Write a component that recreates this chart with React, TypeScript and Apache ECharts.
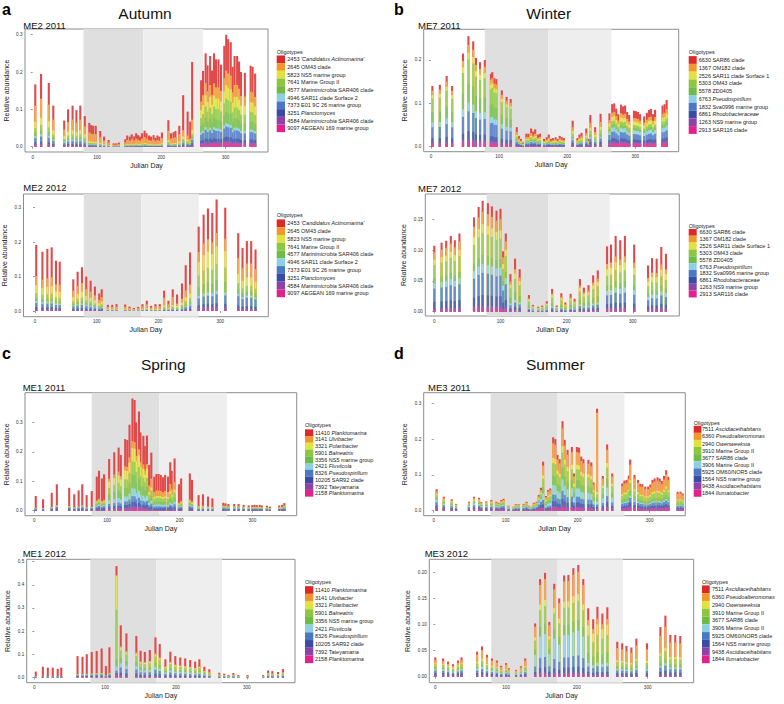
import React, { useEffect, useRef } from "react";
import * as echarts from "echarts";

const FONT = '"Liberation Sans", Arial, Helvetica, sans-serif';
const COLORS = ["#dc2a2a", "#f0982f", "#dfe23f", "#8dc641", "#6fbb46", "#8dd0e4", "#4b78c5", "#3b4aa3", "#8e41a6", "#e2218c"];
const BAR_COLORS = ["#e14a4a", "#f2a84e", "#e4e65c", "#9ecf5d", "#85c562", "#9ed7e8", "#668cce", "#5865b1", "#9f5eb3", "#e6429d"];

// Legend entries: [id, italic part, normal part]
const AUTUMN_LEG = [
  ["2453", "'Candidatus Actinomarina'", ""],
  ["2645", "", "OM43 clade"],
  ["5823", "", "NS5 marine group"],
  ["7641", "", "Marine Group II"],
  ["4577", "Marinimicrobia", "SAR406 clade"],
  ["4946", "", "SAR11 clade Surface 2"],
  ["7373", "", "E01 9C 26 marine group"],
  ["3251", "Planctomyces", ""],
  ["4584", "Marinimicrobia", "SAR406 clade"],
  ["9097", "", "AEGEAN 169 marine group"],
];
const WINTER_LEG = [
  ["6630", "", "SAR86 clade"],
  ["1367", "", "OM182 clade"],
  ["2526", "", "SAR11 clade Surface 1"],
  ["5303", "", "OM43 clade"],
  ["5578", "", "ZD0405"],
  ["6763", "Pseudospirillum", ""],
  ["1832", "", "Sva0996 marine group"],
  ["6861", "Rhodobacteraceae", ""],
  ["1263", "", "NS9 marine group"],
  ["2913", "", "SAR116 clade"],
];
const SPRING_LEG = [
  ["11410", "Planktomarina", ""],
  ["3141", "Ulvibacter", ""],
  ["3321", "Polaribacter", ""],
  ["5901", "Balneatrix", ""],
  ["3356", "", "NS5 marine group"],
  ["2421", "Fluviicola", ""],
  ["8326", "Pseudospirillum", ""],
  ["10205", "", "SAR92 clade"],
  ["7392", "", "Tateyamaria"],
  ["2158", "Planktomarina", ""],
];
const SUMMER_LEG = [
  ["7511", "Ascidiaceihabitans", ""],
  ["6360", "Pseudoalteromonas", ""],
  ["2940", "Owenweeksia", ""],
  ["3910", "", "Marine Group II"],
  ["3677", "", "SAR86 clade"],
  ["3906", "", "Marine Group II"],
  ["5925", "", "OM60/NOR5 clade"],
  ["1564", "", "NS5 marine group"],
  ["9438", "Ascidiaceihabitans", ""],
  ["1844", "Ilumatobacter", ""],
];

const X_TICKS = [0, 100, 200, 300];
const SEASON_BOUNDS = [79, 172, 265];

// ---------- ME2 2011 ----------
const A1_DAYS = [4, 13, 25, 32, 49, 55, 62, 68, 74, 81, 88, 91, 94, 98, 105, 111, 118, 126, 130, 134, 144, 147, 151, 154, 158, 161, 164, 167, 170, 174, 177, 181, 184, 188, 191, 194, 197, 201, 211, 215, 219, 222, 228, 234, 241, 245, 248, 262, 265, 269, 272, 276, 279, 282, 285, 289, 293, 298, 301, 304, 308, 311, 314, 318, 321, 324, 330, 339, 342, 346];
const A1_TOTAL = [0.167, 0.195, 0.171, 0.11, 0.07, 0.1, 0.11, 0.098, 0.11, 0.082, 0.064, 0.058, 0.056, 0.056, 0.042, 0.027, 0.018, 0.009, 0.009, 0.011, 0.02, 0.03, 0.027, 0.033, 0.028, 0.036, 0.031, 0.027, 0.036, 0.043, 0.036, 0.03, 0.027, 0.031, 0.024, 0.03, 0.027, 0.038, 0.071, 0.036, 0.039, 0.042, 0.056, 0.138, 0.094, 0.067, 0.227, 0.178, 0.203, 0.25, 0.218, 0.243, 0.204, 0.25, 0.234, 0.234, 0.22, 0.27, 0.3, 0.288, 0.28, 0.214, 0.243, 0.243, 0.228, 0.2, 0.198, 0.217, 0.214, 0.196];
const A1_MIX = [0, 0, 0, 0, 0, 0, 0, 0, 0, 0, 1, 1, 1, 1, 1, 1, 1, 1, 1, 1, 1, 1, 1, 1, 1, 1, 1, 1, 1, 1, 1, 1, 1, 1, 1, 1, 1, 1, 1, 1, 1, 1, 1, 2, 2, 2, 2, 3, 3, 3, 3, 3, 3, 3, 3, 3, 3, 3, 3, 3, 3, 3, 3, 3, 3, 3, 3, 3, 3, 3];
const A1_PROFILES = [
  [0.34, 0.26, 0.1, 0.07, 0.06, 0.03, 0.07, 0.03, 0.02, 0.02],
  [0.4, 0.36, 0.07, 0.04, 0.03, 0.02, 0.04, 0.02, 0.01, 0.01],
  [0.68, 0.12, 0.05, 0.03, 0.03, 0.01, 0.04, 0.02, 0.01, 0.01],
  [0.32, 0.13, 0.12, 0.12, 0.1, 0.03, 0.09, 0.04, 0.02, 0.03],
];

// ---------- ME2 2012 ----------
const A2_DAYS = [2, 12, 20, 27, 34, 40, 62, 69, 76, 83, 90, 97, 104, 108, 118, 125, 132, 146, 153, 160, 167, 174, 181, 188, 195, 202, 209, 216, 223, 230, 238, 244, 251, 265, 273, 280, 287, 294, 308, 329, 336, 343, 350, 357];
const A2_TOTAL = [0.192, 0.172, 0.18, 0.185, 0.146, 0.143, 0.092, 0.114, 0.127, 0.1, 0.088, 0.071, 0.051, 0.063, 0.018, 0.018, 0.02, 0.019, 0.013, 0.009, 0.012, 0.02, 0.03, 0.015, 0.02, 0.02, 0.059, 0.03, 0.063, 0.048, 0.08, 0.133, 0.17, 0.245, 0.28, 0.298, 0.285, 0.324, 0.3, 0.226, 0.183, 0.203, 0.203, 0.179];
const A2_MIX = [0, 0, 0, 0, 0, 0, 1, 1, 1, 1, 1, 1, 1, 1, 2, 2, 2, 2, 2, 2, 2, 2, 2, 2, 2, 2, 2, 2, 2, 3, 3, 3, 3, 4, 4, 4, 4, 4, 4, 5, 5, 5, 5, 5];
const A2_PROFILES = [
  [0.47, 0.14, 0.12, 0.07, 0.05, 0.03, 0.06, 0.03, 0.015, 0.015],
  [0.36, 0.2, 0.13, 0.08, 0.06, 0.03, 0.07, 0.04, 0.015, 0.015],
  [0.35, 0.38, 0.08, 0.05, 0.04, 0.02, 0.04, 0.02, 0.01, 0.01],
  [0.55, 0.15, 0.08, 0.06, 0.05, 0.02, 0.05, 0.02, 0.01, 0.01],
  [0.3, 0.12, 0.16, 0.14, 0.1, 0.03, 0.08, 0.03, 0.02, 0.02],
  [0.32, 0.2, 0.12, 0.08, 0.06, 0.03, 0.12, 0.04, 0.015, 0.015],
];

// ---------- ME7 2011 ----------
const B1_DAYS = [2, 13, 23, 31, 47, 55, 62, 66, 72, 79, 88, 90, 93, 96, 104, 111, 117, 126, 129, 132, 135, 140, 143, 147, 150, 153, 157, 160, 166, 170, 173, 176, 179, 183, 186, 189, 192, 195, 208, 215, 218, 221, 228, 231, 234, 241, 249, 262, 266, 269, 272, 275, 279, 282, 285, 288, 291, 298, 301, 304, 307, 313, 317, 320, 323, 326, 329, 340, 343, 346];
const B1_TOTAL = [0.14, 0.143, 0.163, 0.14, 0.215, 0.255, 0.243, 0.205, 0.195, 0.2, 0.168, 0.172, 0.158, 0.156, 0.13, 0.115, 0.11, 0.045, 0.025, 0.018, 0.01, 0.03, 0.03, 0.042, 0.035, 0.04, 0.028, 0.03, 0.018, 0.022, 0.028, 0.018, 0.02, 0.022, 0.018, 0.025, 0.022, 0.02, 0.06, 0.02, 0.028, 0.032, 0.042, 0.018, 0.073, 0.045, 0.076, 0.077, 0.098, 0.1, 0.088, 0.075, 0.097, 0.093, 0.095, 0.08, 0.073, 0.083, 0.082, 0.08, 0.075, 0.07, 0.078, 0.085, 0.087, 0.075, 0.085, 0.095, 0.098, 0.108];
const B1_MIX = [0, 0, 0, 0, 0, 0, 0, 0, 0, 0, 0, 0, 0, 0, 0, 0, 0, 1, 1, 1, 1, 1, 1, 1, 1, 1, 1, 1, 1, 1, 1, 1, 1, 1, 1, 1, 1, 1, 1, 1, 1, 1, 1, 1, 1, 1, 1, 2, 2, 2, 2, 2, 2, 2, 2, 2, 2, 2, 2, 2, 2, 2, 2, 2, 2, 2, 2, 2, 2, 2];
const B1_PROFILES = [
  [0.08, 0.07, 0.06, 0.22, 0.17, 0.08, 0.18, 0.07, 0.03, 0.04],
  [0.25, 0.15, 0.1, 0.12, 0.08, 0.05, 0.1, 0.08, 0.03, 0.04],
  [0.2, 0.1, 0.1, 0.08, 0.07, 0.1, 0.15, 0.08, 0.04, 0.08],
];

// ---------- ME7 2012 ----------
const B2_DAYS = [0, 11, 18, 25, 31, 38, 60, 67, 73, 81, 87, 94, 100, 104, 108, 115, 122, 129, 143, 149, 157, 163, 170, 178, 185, 192, 198, 206, 212, 220, 226, 233, 240, 247, 261, 267, 274, 281, 288, 302, 323, 329, 336, 343, 350];
const B2_TOTAL = [0.107, 0.112, 0.115, 0.123, 0.116, 0.127, 0.153, 0.17, 0.18, 0.176, 0.171, 0.164, 0.167, 0.098, 0.127, 0.061, 0.086, 0.069, 0.027, 0.011, 0.008, 0.01, 0.017, 0.037, 0.01, 0.03, 0.015, 0.029, 0.021, 0.053, 0.039, 0.043, 0.059, 0.067, 0.106, 0.109, 0.123, 0.116, 0.123, 0.109, 0.075, 0.087, 0.086, 0.105, 0.094];
const B2_MIX = [0, 0, 0, 0, 0, 0, 0, 0, 0, 0, 0, 0, 0, 0, 0, 1, 1, 1, 1, 1, 1, 1, 1, 1, 1, 1, 1, 1, 1, 1, 1, 1, 1, 1, 2, 2, 2, 2, 2, 2, 2, 2, 2, 2, 2];
const B2_PROFILES = [
  [0.1, 0.11, 0.08, 0.2, 0.08, 0.08, 0.2, 0.1, 0.02, 0.03],
  [0.2, 0.08, 0.1, 0.25, 0.15, 0.05, 0.08, 0.05, 0.02, 0.02],
  [0.27, 0.08, 0.1, 0.15, 0.08, 0.07, 0.13, 0.07, 0.02, 0.03],
];

// ---------- ME1 2011 ----------
const C1_DAYS = [2, 12, 24, 31, 48, 55, 61, 66, 72, 79, 86, 89, 93, 96, 103, 110, 116, 119, 125, 128, 131, 135, 138, 140, 144, 146, 150, 152, 155, 158, 161, 165, 168, 171, 174, 177, 180, 184, 187, 189, 193, 199, 202, 214, 217, 226, 232, 239, 245, 260, 263, 267, 275, 281, 288, 295, 300, 303, 306, 310, 313, 320, 324, 337, 341, 344];
const C1_TOTAL = [0.05, 0.039, 0.061, 0.09, 0.078, 0.056, 0.069, 0.09, 0.053, 0.067, 0.116, 0.136, 0.11, 0.124, 0.176, 0.199, 0.215, 0.19, 0.244, 0.241, 0.293, 0.382, 0.377, 0.301, 0.338, 0.267, 0.255, 0.22, 0.256, 0.156, 0.198, 0.116, 0.125, 0.125, 0.122, 0.114, 0.122, 0.116, 0.165, 0.136, 0.178, 0.09, 0.11, 0.127, 0.105, 0.053, 0.056, 0.048, 0.042, 0.027, 0.025, 0.023, 0.023, 0.023, 0.02, 0.018, 0.019, 0.02, 0.019, 0.02, 0.018, 0.017, 0.014, 0.018, 0.02, 0.026];
const C1_MIX = [0, 0, 0, 0, 0, 0, 0, 0, 0, 0, 3, 3, 3, 3, 1, 1, 1, 1, 1, 1, 1, 1, 1, 1, 1, 1, 1, 1, 1, 2, 2, 2, 2, 2, 2, 2, 2, 2, 2, 2, 2, 3, 3, 3, 3, 3, 3, 3, 3, 4, 4, 4, 4, 4, 4, 4, 4, 4, 4, 4, 4, 4, 4, 4, 4, 4];
const C1_PROFILES = [
  [0.8, 0.01, 0.01, 0.01, 0.01, 0.02, 0.05, 0.05, 0.02, 0.02],
  [0.38, 0.06, 0.12, 0.12, 0.12, 0.07, 0.05, 0.04, 0.02, 0.02],
  [0.45, 0.15, 0.05, 0.1, 0.08, 0.05, 0.05, 0.04, 0.02, 0.01],
  [0.7, 0.05, 0.02, 0.04, 0.04, 0.03, 0.05, 0.04, 0.02, 0.01],
  [0.35, 0.05, 0.04, 0.1, 0.08, 0.06, 0.12, 0.12, 0.04, 0.04],
];

// ---------- ME1 2012 ----------
const C2_DAYS = [2, 12, 19, 26, 33, 38, 61, 68, 74, 81, 88, 95, 101, 106, 116, 122, 130, 144, 150, 156, 163, 171, 177, 185, 192, 199, 206, 213, 220, 227, 233, 240, 247, 261, 268, 274, 281, 288, 301, 323, 330, 336, 344, 351];
const C2_TOTAL = [0.025, 0.046, 0.042, 0.042, 0.037, 0.042, 0.092, 0.089, 0.1, 0.11, 0.114, 0.125, 0.049, 0.13, 0.481, 0.225, 0.19, 0.179, 0.115, 0.11, 0.118, 0.173, 0.144, 0.078, 0.111, 0.092, 0.086, 0.082, 0.075, 0.068, 0.078, 0.046, 0.035, 0.02, 0.016, 0.01, 0.019, 0.01, 0.01, 0.01, 0.03, 0.027, 0.023, 0.036];
const C2_MIX = [0, 0, 0, 0, 0, 0, 0, 0, 0, 0, 0, 0, 0, 0, 1, 2, 2, 2, 2, 2, 2, 2, 2, 2, 2, 2, 2, 2, 2, 2, 2, 2, 2, 3, 3, 3, 3, 3, 3, 3, 3, 3, 3, 3];
const C2_PROFILES = [
  [0.85, 0.01, 0.01, 0.01, 0.01, 0.01, 0.04, 0.03, 0.01, 0.02],
  [0.08, 0.01, 0.3, 0.45, 0.06, 0.04, 0.02, 0.01, 0.01, 0.02],
  [0.4, 0.03, 0.05, 0.15, 0.1, 0.08, 0.1, 0.05, 0.02, 0.02],
  [0.4, 0.05, 0.05, 0.15, 0.1, 0.05, 0.1, 0.05, 0.02, 0.03],
];

// ---------- ME3 2011 ----------
const D1_DAYS = [4, 14, 25, 31, 49, 56, 63, 66, 73, 80, 87, 90, 94, 97, 104, 111, 114, 118, 125, 129, 132, 136, 139, 143, 146, 149, 152, 156, 159, 162, 166, 169, 172, 175, 179, 182, 186, 192, 195, 199, 202, 205, 208, 215, 219, 222, 227, 235, 241, 248, 262, 265, 268, 271, 273, 279, 284, 287, 290, 294, 298, 301, 304, 307, 311, 314, 317, 320, 323, 326, 339, 343, 346];
const D1_TOTAL = [0.06, 0.039, 0.032, 0.019, 0.025, 0.039, 0.036, 0.024, 0.026, 0.03, 0.025, 0.022, 0.03, 0.033, 0.014, 0.011, 0.018, 0.018, 0.019, 0.025, 0.014, 0.011, 0.022, 0.025, 0.044, 0.064, 0.137, 0.041, 0.058, 0.062, 0.205, 0.2, 0.156, 0.144, 0.25, 0.198, 0.17, 0.178, 0.104, 0.178, 0.176, 0.151, 0.144, 0.142, 0.135, 0.079, 0.285, 0.097, 0.185, 0.104, 0.076, 0.084, 0.086, 0.098, 0.143, 0.1, 0.086, 0.075, 0.074, 0.067, 0.067, 0.073, 0.086, 0.09, 0.093, 0.09, 0.083, 0.097, 0.113, 0.095, 0.053, 0.053, 0.048];
const D1_MIX = [0, 0, 0, 0, 0, 0, 0, 0, 0, 0, 0, 0, 0, 0, 0, 0, 0, 0, 0, 0, 0, 0, 0, 0, 0, 0, 1, 1, 1, 1, 1, 1, 1, 1, 1, 1, 1, 1, 1, 1, 1, 1, 1, 1, 1, 1, 2, 1, 1, 1, 3, 3, 3, 3, 3, 3, 3, 3, 3, 3, 3, 3, 3, 3, 3, 3, 3, 3, 3, 3, 3, 3, 3];
const D1_PROFILES = [
  [0.1, 0.12, 0.05, 0.12, 0.1, 0.12, 0.15, 0.1, 0.04, 0.1],
  [0.08, 0.2, 0.07, 0.17, 0.13, 0.13, 0.09, 0.07, 0.02, 0.04],
  [0.04, 0.78, 0.02, 0.04, 0.03, 0.03, 0.02, 0.02, 0.01, 0.01],
  [0.1, 0.3, 0.06, 0.15, 0.1, 0.04, 0.09, 0.07, 0.03, 0.06],
];

// ---------- ME3 2012 ----------
const D2_DAYS = [0, 11, 18, 25, 32, 37, 59, 66, 73, 80, 87, 93, 100, 104, 114, 121, 127, 141, 148, 155, 161, 168, 175, 182, 188, 195, 202, 209, 216, 223, 229, 236, 243, 257, 264, 270, 277, 284, 299, 318, 325, 332, 339, 346];
const D2_TOTAL = [0.037, 0.035, 0.029, 0.024, 0.031, 0.037, 0.048, 0.058, 0.042, 0.035, 0.031, 0.021, 0.026, 0.016, 0.013, 0.02, 0.035, 0.102, 0.187, 0.199, 0.105, 0.178, 0.15, 0.194, 0.195, 0.208, 0.214, 0.187, 0.131, 0.11, 0.134, 0.121, 0.133, 0.067, 0.064, 0.059, 0.056, 0.073, 0.064, 0.095, 0.117, 0.08, 0.08, 0.078];
const D2_MIX = [0, 0, 0, 0, 0, 0, 1, 1, 1, 1, 1, 1, 1, 1, 1, 1, 1, 2, 2, 2, 2, 2, 2, 2, 2, 2, 2, 2, 3, 3, 3, 3, 3, 4, 4, 4, 4, 4, 4, 4, 4, 4, 4, 4];
const D2_PROFILES = [
  [0.15, 0.15, 0.05, 0.15, 0.1, 0.08, 0.12, 0.1, 0.05, 0.05],
  [0.12, 0.3, 0.05, 0.12, 0.08, 0.08, 0.1, 0.08, 0.03, 0.04],
  [0.06, 0.2, 0.06, 0.17, 0.1, 0.22, 0.1, 0.05, 0.02, 0.02],
  [0.17, 0.08, 0.15, 0.25, 0.15, 0.05, 0.08, 0.04, 0.01, 0.02],
  [0.18, 0.35, 0.05, 0.12, 0.08, 0.04, 0.08, 0.06, 0.02, 0.02],
];

// layout (pixels) kept apart from the data
type Layout = {
  grid: number[]; // left, top, width, height
  x: number[]; // min, max (Julian day)
  y: number[]; // min, max
  yTicks: number[];
  dec: number;
  label: number[]; // title x, y
  leg: number[]; // block x, title y, first y, step, text x, block w
};

const PANELS: { title: string; leg: string[][]; days: number[]; total: number[]; mix: number[]; prof: number[][]; L: Layout }[] = [
  { title: "ME2 2011", leg: AUTUMN_LEG, days: A1_DAYS, total: A1_TOTAL, mix: A1_MIX, prof: A1_PROFILES,
    L: { grid: [25, 29, 243, 123], x: [-12, 366], y: [-0.0142, 0.3153], yTicks: [0, 0.1, 0.2, 0.3], dec: 1, label: [23.3, 25], leg: [276.7, 51.7, 59.3, 7.67, 287.3, 8.3] } },
  { title: "ME2 2012", leg: AUTUMN_LEG, days: A2_DAYS, total: A2_TOTAL, mix: A2_MIX, prof: A2_PROFILES,
    L: { grid: [22, 194, 246.3, 122.7], x: [-18.6, 377.7], y: [-0.0165, 0.3398], yTicks: [0, 0.1, 0.2, 0.3], dec: 1, label: [23.3, 187.3], leg: [276.7, 215, 223.3, 7.78, 287.3, 8.3] } },
  { title: "ME7 2011", leg: WINTER_LEG, days: B1_DAYS, total: B1_TOTAL, mix: B1_MIX, prof: B1_PROFILES,
    L: { grid: [423.7, 29.3, 255, 122.4], x: [-10.7, 363.7], y: [-0.0115, 0.2708], yTicks: [0, 0.1, 0.2], dec: 1, label: [418, 25], leg: [688.7, 51.7, 60, 7.78, 698.7, 8] } },
  { title: "ME7 2012", leg: WINTER_LEG, days: B2_DAYS, total: B2_TOTAL, mix: B2_MIX, prof: B2_PROFILES,
    L: { grid: [425.3, 194, 254, 122], x: [-13.6, 370.2], y: [-0.007, 0.191], yTicks: [0, 0.05, 0.1, 0.15], dec: 2, label: [418, 188.3], leg: [688.7, 226, 232.3, 6.86, 699.5, 8] } },
  { title: "ME1 2011", leg: SPRING_LEG, days: C1_DAYS, total: C1_TOTAL, mix: C1_MIX, prof: C1_PROFILES,
    L: { grid: [25, 392.7, 271.7, 123], x: [-12.8, 361], y: [-0.017, 0.402], yTicks: [0, 0.1, 0.2, 0.3], dec: 1, label: [22.7, 387.7], leg: [305, 425, 432.7, 6.73, 315, 8.3] } },
  { title: "ME1 2012", leg: SPRING_LEG, days: C2_DAYS, total: C2_TOTAL, mix: C2_MIX, prof: C2_PROFILES,
    L: { grid: [26.7, 559.3, 268.3, 123.4], x: [-10.8, 368], y: [-0.023, 0.5104], yTicks: [0, 0.1, 0.2, 0.3, 0.4, 0.5], dec: 1, label: [22.7, 553.3], leg: [305, 582.3, 590, 7.7, 315, 8.3] } },
  { title: "ME3 2011", leg: SUMMER_LEG, days: D1_DAYS, total: D1_TOTAL, mix: D1_MIX, prof: D1_PROFILES,
    L: { grid: [423.7, 392.7, 261.6, 123], x: [-13.9, 349.6], y: [-0.014, 0.3296], yTicks: [0, 0.1, 0.2, 0.3], dec: 1, label: [428, 387.7], leg: [693.7, 422.7, 429.3, 7.1, 702, 7.7] } },
  { title: "ME3 2012", leg: SUMMER_LEG, days: D2_DAYS, total: D2_TOTAL, mix: D2_MIX, prof: D2_PROFILES,
    L: { grid: [429.3, 559.3, 264.4, 123.4], x: [-8.5, 365], y: [-0.0115, 0.2249], yTicks: [0, 0.05, 0.1, 0.15, 0.2], dec: 2, label: [424.7, 553.3], leg: [702, 581.7, 589.3, 7.78, 712, 7.7] } },
];

const SECTIONS = [
  { letter: "a", name: "Autumn", lx: 2, ly: 9, tx: 145, ty: 13 },
  { letter: "b", name: "Winter", lx: 394, ly: 9, tx: 548.7, ty: 13 },
  { letter: "c", name: "Spring", lx: 2, ly: 353, tx: 163.3, ty: 364 },
  { letter: "d", name: "Summer", lx: 394, ly: 353, tx: 555.3, ty: 364 },
];

const legName = (e: string[]) => e.filter(Boolean).join(" ");
const legRich = (e: string[]) => {
  let s = `{n|${e[0]}}`;
  if (e[1]) s += ` {i|${e[1]}}`;
  if (e[2]) s += ` {n|${e[2]}}`;
  return s;
};

function buildOption() {
  const grid: any[] = [];
  const xAxis: any[] = [];
  const yAxis: any[] = [];
  const series: any[] = [];
  const graphic: any[] = [];
  const LEG_FS = 5.5;
  const TICK_FS = 4.6;
  const NAME_FS = 7;

  PANELS.forEach((p, k) => {
    const L = p.L;
    grid.push({ left: L.grid[0], top: L.grid[1], width: L.grid[2], height: L.grid[3], show: true, borderColor: "#8d8d8d", borderWidth: 1, backgroundColor: "transparent" });
    xAxis.push({
      type: "value", gridIndex: k, min: L.x[0], max: L.x[1],
      axisLine: { show: false }, splitLine: { show: false },
      axisTick: { show: true, length: 2, customValues: X_TICKS, lineStyle: { color: "#555", width: 0.6 } },
      axisLabel: { customValues: X_TICKS, fontSize: TICK_FS, margin: 2.5, color: "#333", fontFamily: FONT },
      name: "Julian Day", nameLocation: "middle", nameGap: 9.5,
      nameTextStyle: { fontSize: NAME_FS, color: "#222", fontFamily: FONT },
    });
    yAxis.push({
      type: "value", gridIndex: k, min: L.y[0], max: L.y[1],
      axisLine: { show: false }, splitLine: { show: false },
      axisTick: { show: true, length: 2, customValues: L.yTicks, lineStyle: { color: "#555", width: 0.6 } },
      axisLabel: { customValues: L.yTicks, fontSize: TICK_FS, margin: 2.5, color: "#333", fontFamily: FONT, formatter: (v: number) => v.toFixed(L.dec) },
      name: "Relative abundance", nameLocation: "middle", nameGap: L.dec === 2 ? 18 : 15.5,
      nameTextStyle: { fontSize: NAME_FS, color: "#222", fontFamily: FONT },
    });
    // Stacked bars: each oligotype's bar reaches the top of its segment in the stack
    // (cumulative from the bottom-most oligotype); bars overlap at the same day, and the
    // lower segments are drawn over the higher ones.
    for (let s = 0; s <= 9; s++) {
      const ser: any = {
        type: "bar", name: legName(p.leg[s]), xAxisIndex: k, yAxisIndex: k,
        barWidth: 2.1, barGap: "-100%", silent: true,
        itemStyle: { color: BAR_COLORS[s] },
        data: p.days.map((d, i) => {
          const prof = p.prof[p.mix[i]];
          let top = 0;
          for (let j = s; j <= 9; j++) top += p.total[i] * prof[j];
          return [d, +top.toFixed(5)];
        }),
      };
      if (s === 0) {
        ser.markArea = {
          silent: true,
          data: [
            [{ xAxis: SEASON_BOUNDS[0], itemStyle: { color: "#dfdfdf" } }, { xAxis: SEASON_BOUNDS[1] }],
            [{ xAxis: SEASON_BOUNDS[1], itemStyle: { color: "#eeeeee" } }, { xAxis: SEASON_BOUNDS[2] }],
          ],
        };
      }
      series.push(ser);
    }
    graphic.push({ type: "text", x: L.label[0], y: L.label[1], style: { text: p.title, fontSize: 9.5, fontFamily: FONT, fill: "#111", verticalAlign: "middle" } });
    const [bx, ty, fy, step, tx, bw] = L.leg;
    graphic.push({ type: "text", x: bx, y: ty, style: { text: "Oligotypes", fontSize: LEG_FS, fontFamily: FONT, fill: "#222", verticalAlign: "middle" } });
    p.leg.forEach((e, i) => {
      const cy = fy + i * step;
      graphic.push({ type: "rect", shape: { x: bx, y: cy - step / 2, width: bw, height: step }, style: { fill: COLORS[i] } });
      graphic.push({
        type: "text", x: tx, y: cy,
        style: {
          text: legRich(e), fontSize: LEG_FS, fontFamily: FONT, fill: "#222", verticalAlign: "middle",
          rich: {
            n: { fontSize: LEG_FS, fontFamily: FONT, fill: "#222" },
            i: { fontSize: LEG_FS, fontFamily: FONT, fill: "#222", fontStyle: "italic" },
          },
        },
      });
    });
  });

  SECTIONS.forEach((s) => {
    graphic.push({ type: "text", x: s.lx, y: s.ly, style: { text: s.letter, fontSize: 16, fontWeight: "bold", fontFamily: FONT, fill: "#000", verticalAlign: "middle" } });
    graphic.push({ type: "text", x: s.tx, y: s.ty, style: { text: s.name, fontSize: 15.5, fontFamily: FONT, fill: "#111", align: "center", verticalAlign: "middle" } });
  });

  return {
    animation: false,
    backgroundColor: "#ffffff",
    textStyle: { fontFamily: FONT },
    grid, xAxis, yAxis, series, graphic,
  };
}

export default function App() {
  const ref = useRef<HTMLDivElement>(null);
  useEffect(() => {
    if (!ref.current) return;
    const chart = echarts.init(ref.current, undefined, { renderer: "svg", width: 784, height: 704 });
    chart.setOption(buildOption());
    return () => chart.dispose();
  }, []);
  return <div ref={ref} style={{ position: "absolute", left: 0, top: 0, width: 784, height: 704, background: "#fff" }} />;
}
